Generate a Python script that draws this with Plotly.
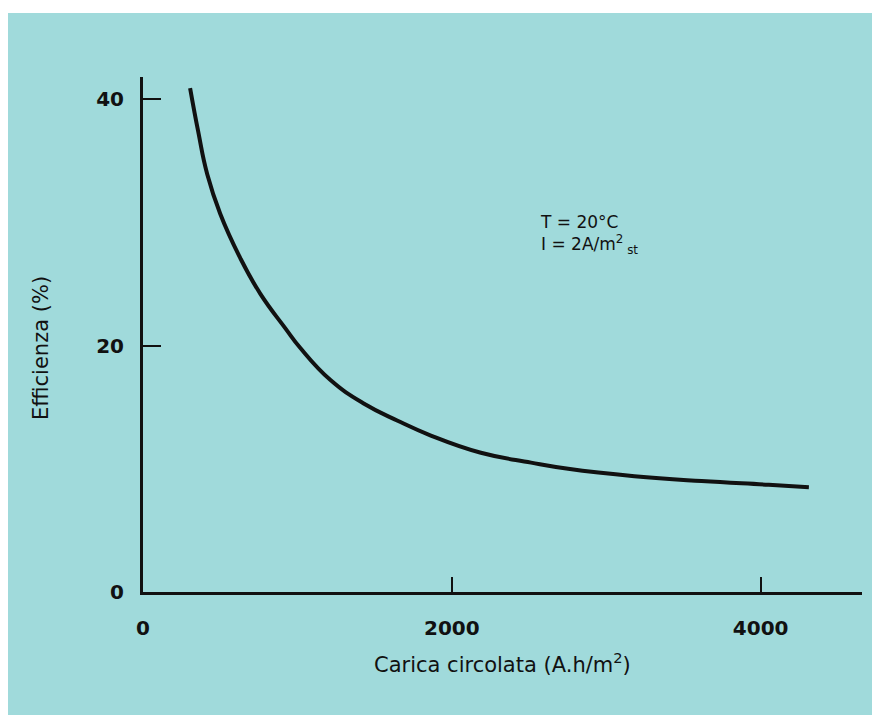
import plotly.graph_objects as go

# Data
carica = [305, 357, 416, 500, 630, 760, 922, 1019, 1214, 1429, 1649, 1864,
          2188, 2513, 2753, 3182, 3617, 4052, 4312]
efficienza = [40.9, 37.4, 33.9, 30.7, 27.1, 24.2, 21.4, 19.8, 17.2, 15.3, 13.9,
              12.7, 11.3, 10.5, 10.0, 9.4, 9.0, 8.7, 8.5]
x_ticks = [0, 2000, 4000]
x_tick_labels = ["0", "2000", "4000"]
y_ticks = [0, 20, 40]
y_tick_labels = ["0", "20", "40"]

BG = "#a0dadb"
FONT = "DejaVu Sans"

fig = go.Figure()
fig.add_trace(go.Scatter(x=carica, y=efficienza, mode="lines",
                         line=dict(color="#111111", width=4, shape="spline", smoothing=1.3),
                         hoverinfo="skip", showlegend=False))

# page body has an 8px margin, so the figure is drawn 8px right/down
OFF = 8
W, H = 880 - OFF, 715 - OFF
L, R, T = 143 - OFF, 18, 77 - OFF
B = H - (592 - OFF)
pw, ph = W - L - R, H - T - B

def px(xp):  # page x pixel -> paper x
    return (xp - OFF - L) / pw

def py(yp):  # page y pixel -> paper y
    return ((H - B) - (yp - OFF)) / ph

fig.update_layout(
    width=W, height=H,
    margin=dict(l=L, r=R, t=T, b=B),
    paper_bgcolor=BG, plot_bgcolor=BG,
    font=dict(family=FONT, color="#111111"),
    xaxis=dict(range=[0, 4656], showgrid=False, zeroline=False,
               showline=True, linecolor="#111111", linewidth=3,
               ticks="inside", ticklen=15, tickwidth=2, tickcolor="#111111",
               tickvals=x_ticks, ticktext=x_tick_labels,
               tickfont=dict(family=FONT, size=20, color="#111111", weight="bold"),
               ticklabelstandoff=16),
    yaxis=dict(range=[0, 41.8], showgrid=False, zeroline=False,
               showline=True, linecolor="#111111", linewidth=3,
               ticks="inside", ticklen=18, tickwidth=2, tickcolor="#111111",
               tickvals=y_ticks, ticktext=y_tick_labels,
               tickfont=dict(family=FONT, size=20, color="#111111", weight="bold"),
               ticklabelstandoff=12),
)

# white top margin of the scan (teal starts ~13px from page top)
fig.add_shape(type="rect", xref="paper", yref="paper",
              x0=px(0) - 0.02, x1=px(890) + 0.02,
              y0=py(13), y1=py(0) + 0.05,
              fillcolor="white", line=dict(width=0), layer="below")

# axis titles
fig.add_annotation(text="Carica circolata (A.h/m<sup>2</sup>)", xref="paper", yref="paper",
                   x=px(502), y=py(663), showarrow=False,
                   xanchor="center", yanchor="middle",
                   font=dict(family=FONT, size=21, color="#111111"))
fig.add_annotation(text="Efficienza (%)", xref="paper", yref="paper",
                   x=px(41), y=py(348), showarrow=False,
                   textangle=-90, xanchor="center", yanchor="middle",
                   font=dict(family=FONT, size=21, color="#111111"))

# conditions
fig.add_annotation(text="T = 20°C<br>I = 2A/m<sup>2</sup><sub> st</sub>",
                   xref="paper", yref="paper",
                   x=px(538), y=py(210), showarrow=False,
                   xanchor="left", yanchor="top", align="left",
                   font=dict(family=FONT, size=17, color="#111111"))

fig.write_html("out.html")
